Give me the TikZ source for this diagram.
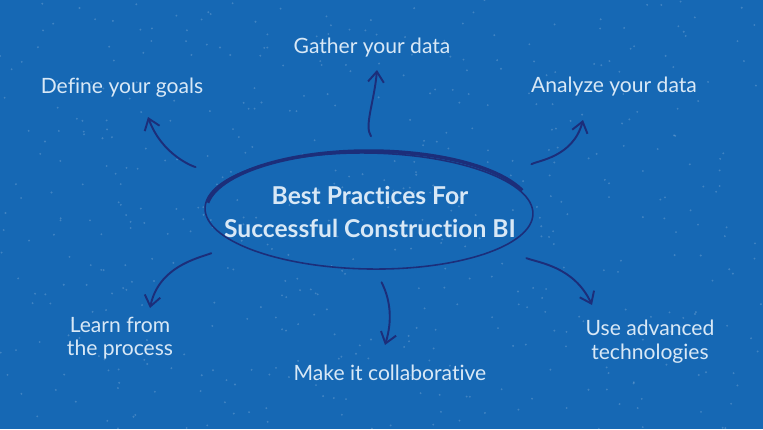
\documentclass[tikz,border=0pt]{standalone}
\usepackage{fontspec}
\setmainfont{Lato}[Ligatures={NoCommon,NoRare}]
\usetikzlibrary{shapes.geometric,arrows.meta}
\definecolor{bgblue}{RGB}{22,104,180}
\definecolor{ink}{RGB}{28,46,122}
\definecolor{chalk}{RGB}{216,232,246}
\begin{document}
\begin{tikzpicture}[x=0.02cm,y=0.02cm]
  \tikzstyle{leaf}=[text=chalk,font=\fontsize{12}{13.5}\selectfont,align=center,inner sep=1pt]
  \tikzstyle{link}=[ink,line width=1.1pt,line cap=round,-{Straight Barb[length=6pt,width=9pt]}]
  \tikzstyle{rim}=[ink,line width=0.9pt]
  \fill[bgblue] (0,0) rectangle (763,-429);
  \useasboundingbox (0,0) rectangle (763,-429);
  \pgfmathsetseed{7}
  \foreach \i in {1,...,500}
    \fill[white,opacity=0.18] (763*rnd,-429*rnd) circle (0.6pt);

  \node[ellipse,draw,rim,minimum width=6.56cm,minimum height=2.32cm,inner sep=0pt,rotate=-1] (hub) at (369,-211) {};
  \draw[rim,line width=2pt] ([shift={(172:3.26cm and 1.2cm)}]hub.center) arc[start angle=172,end angle=20,x radius=3.26cm,y radius=1.2cm];
  \node[text=chalk,font=\bfseries\fontsize{14}{19}\selectfont,align=center] (title) at (370,-212) {Best Practices For\\Successful Construction BI};

  \node[leaf] (L_1) at (122,-88)  {Define your goals};
  \node[leaf] (L_2) at (372,-48)  {Gather your data};
  \node[leaf] (L_3) at (614,-87)  {Analyze your data};
  \node[leaf] (L_4) at (120,-338) {Learn from\\the process};
  \node[leaf] (L_5) at (390,-373) {Make it collaborative};
  \node[leaf] (L_6) at (650,-342) {Use advanced\\technologies};

  \coordinate (T_1) at (148,-117);
  \coordinate (T_2) at (377,-70);
  \coordinate (T_3) at (583,-120);
  \coordinate (T_4) at (150,-308);
  \coordinate (T_5) at (385,-345);
  \coordinate (T_6) at (592,-305);

  \draw[link,shorten <=0.74cm] (hub.167) to[out=165,in=-70] (T_1);
  \draw[link,shorten <=0.4cm] (hub.78) to[out=125,in=-95] (T_2);
  \draw[link,shorten <=0.62cm] (hub.14) to[out=30,in=-105] (T_3);
  \draw[link,shorten <=0.54cm] (hub.195) to[out=200,in=78] (T_4);
  \draw[link,shorten <=0.28cm] (hub.-83) to[out=-63,in=73] (T_5);
  \draw[link,shorten <=0.56cm] (hub.-15) to[out=-20,in=115] (T_6);
\end{tikzpicture}
\end{document}
